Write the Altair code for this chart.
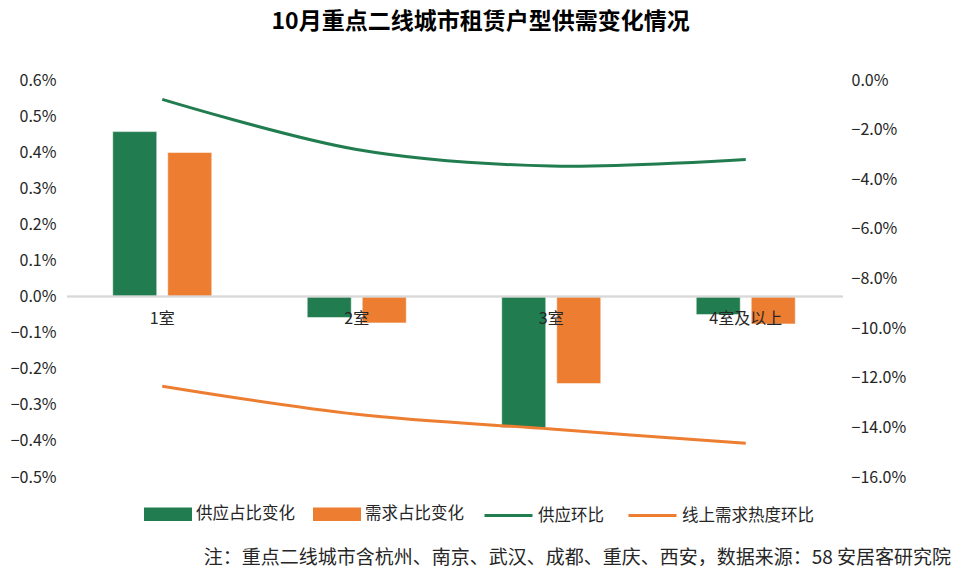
import altair as alt
import pandas as pd

categories = ["1室", "2室", "3室", "4室及以上"]
supply_share = [0.00457, -0.00058, -0.00363, -0.00050]
demand_share = [0.00399, -0.00073, -0.00241, -0.00076]
supply_mom = [-0.0078, -0.0280, -0.0347, -0.0320]
demand_heat_mom = [-0.1234, -0.1347, -0.1407, -0.1464]

bar_series = ["供应占比变化", "需求占比变化"]
line_series = ["供应环比", "线上需求热度环比"]
left_ticks = [0.006, 0.005, 0.004, 0.003, 0.002, 0.001, 0.0, -0.001, -0.002, -0.003, -0.004, -0.005]
right_ticks = [0.0, -0.02, -0.04, -0.06, -0.08, -0.10, -0.12, -0.14, -0.16]

GREEN = "#217D4F"
ORANGE = "#ED7D31"
FONT = "Noto Sans CJK SC"
title_text = "10月重点二线城市租赁户型供需变化情况"
note_text = "注：重点二线城市含杭州、南京、武汉、成都、重庆、西安，数据来源：58 安居客研究院"

bars_df = pd.DataFrame({
    "cat": categories * 2,
    "series": [bar_series[0]] * 4 + [bar_series[1]] * 4,
    "value": supply_share + demand_share,
})
lines_df = pd.DataFrame({
    "cat": categories * 2,
    "series": [line_series[0]] * 4 + [line_series[1]] * 4,
    "value": supply_mom + demand_heat_mom,
})
cat_df = pd.DataFrame({"cat": categories, "value": [0.0] * 4})

W, H = 778, 397
xscale = alt.Scale(paddingInner=0, paddingOuter=0)
left_scale = alt.Scale(domain=[-0.005, 0.006], nice=False, zero=False)
right_scale = alt.Scale(domain=[-0.16, 0.0], nice=False, zero=False)
X = alt.X("cat:N", sort=categories, scale=xscale, axis=None)

left_axis = alt.Axis(values=left_ticks, format=".1%", grid=False, domain=False,
                     ticks=False, labelPadding=9, labelFontSize=16,
                     labelFont=FONT, labelColor="#262626")
LY = alt.Y("value:Q", scale=left_scale, title=None, axis=left_axis)

bars = alt.Chart(bars_df).mark_bar(stroke="white", strokeWidth=0.5).encode(
    x=X,
    xOffset=alt.XOffset("series:N", sort=bar_series,
                        scale=alt.Scale(paddingInner=0.2, paddingOuter=0.868)),
    y=LY,
    color=alt.Color("series:N", sort=bar_series,
                    scale=alt.Scale(domain=bar_series, range=[GREEN, ORANGE]),
                    legend=alt.Legend(title=None, orient="none", legendX=79, legendY=410,
                                      direction="horizontal",
                                      symbolType="M-1,-0.28L1,-0.28L1,0.28L-1,0.28Z",
                                      symbolSize=2304, symbolStrokeWidth=0,
                                      labelFontSize=16.5, labelFont=FONT, labelColor="#262626",
                                      labelOffset=4, columnPadding=18)),
)

zero_rule = alt.Chart(cat_df).mark_rule(color="#D9D9D9", strokeWidth=1.5).encode(
    y=LY,
    x=alt.value(2), x2=alt.value(W),
)

cat_labels = alt.Chart(cat_df).mark_text(fontSize=16, font=FONT, color="#262626", dy=22).encode(
    x=X,
    y=LY,
    text="cat:N",
)

left = alt.layer(bars, zero_rule, cat_labels)

lines = alt.Chart(lines_df).mark_line(strokeWidth=3, interpolate="cardinal", tension=0).encode(
    x=X,
    y=alt.Y("value:Q", scale=right_scale, title=None,
            axis=alt.Axis(orient="right", values=right_ticks, format=".1%", grid=False,
                          domain=False, ticks=False, labelPadding=8, labelFontSize=16,
                          labelFont=FONT, labelColor="#262626")),
    color=alt.Color("series:N", sort=line_series,
                    scale=alt.Scale(domain=line_series, range=[GREEN, ORANGE]),
                    legend=alt.Legend(title=None, orient="none", legendX=418, legendY=410,
                                      direction="horizontal", symbolType="stroke",
                                      symbolSize=2304, symbolStrokeWidth=3,
                                      labelFontSize=16.5, labelFont=FONT, labelColor="#262626",
                                      labelOffset=4, columnPadding=18)),
    detail="series:N",
)

note = alt.Chart(cat_df.head(1)).mark_text(fontSize=19, font=FONT, color="#262626",
                                           align="right", baseline="middle").encode(
    x=alt.value(886), y=alt.value(478), text=alt.value(note_text),
)

chart = alt.layer(left, lines, note).resolve_scale(
    y="independent", color="independent"
).properties(
    width=W, height=H,
    padding={"top": 3, "left": 2, "right": 0, "bottom": 0},
    title=alt.TitleParams(title_text, fontSize=23, fontWeight="bold", font=FONT,
                          color="#000000", anchor="middle", frame="bounds", offset=38),
).configure_view(stroke=None)

chart.save("out.html", embed_options={"renderer": "svg", "actions": False})
